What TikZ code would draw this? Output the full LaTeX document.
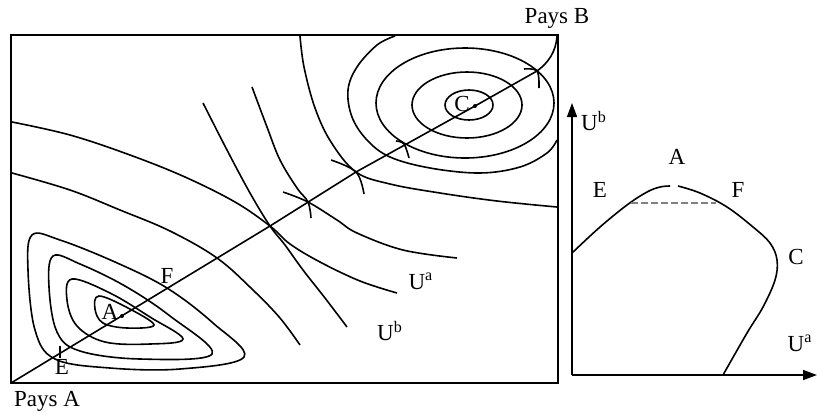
\documentclass[tikz,border=0pt]{standalone}
\usepackage{fontspec}
\setmainfont{Liberation Serif}
\usetikzlibrary{arrows.meta, positioning, calc}

\begin{document}
\begin{tikzpicture}[
    x=0.5pt, y=-0.5pt,
    boxline/.style={line width=0.9pt},
    icurve/.style={line width=0.8pt},
    lbl/.style={font=\fontsize{11.5}{13}\selectfont, inner sep=0pt},
    axisline/.style={line width=0.8pt, -{Triangle[length=7pt, width=5pt]}}
]
\useasboundingbox (0,0) rectangle (817,414);
% Edgeworth box
\draw[boxline] (11,35) rectangle (558,383);
\coordinate (O) at (11,383);
\coordinate (cA) at (122,316);
\coordinate (T0) at (270,226);
\coordinate (T1) at (308,202);
\coordinate (T2) at (356,172);
\coordinate (T3) at (404,144);
\coordinate (cC) at (475,106);
\coordinate (T4) at (537,71);
\coordinate (cB) at (557,36);
\draw[icurve] (O) -- (T0) -- (T2) -- (cC) -- (T4) .. controls (548,63) and (556,52) .. (cB);
\fill (cA) circle (2);
\fill (cC) circle (2);
% country A
\draw[icurve] plot[smooth cycle, tension=0.6] coordinates {(99,296) (95,309) (103,323) (127,328) (154,325) (128,308)};
\draw[icurve] plot[smooth cycle, tension=0.6] coordinates {(72,279) (67,300) (77,326) (105,342) (150,344) (183,339) (150,317) (110,293)};
\draw[icurve] plot[smooth cycle, tension=0.6] coordinates {(53,256) (49,287) (57,332) (80,351) (140,359) (212,354) (170,316) (125,286) (80,264)};
\draw[icurve] plot[smooth cycle, tension=0.6] coordinates {(32,235) (28,270) (35,330) (55,359) (110,368) (180,369) (244,357) (213,323) (167,288) (115,262) (60,240)};
\draw[icurve] plot[smooth, tension=0.6] coordinates {(12,122) (70,135) (130,155) (185,177) (235,202) (T0) (290,244) (320,262) (360,281) (397,293)};
\draw[icurve] plot[smooth, tension=0.6] coordinates {(12,173) (70,190) (120,210) (170,231) (217,258) (253,290) (280,318) (300,345)};
\draw[icurve] plot[smooth, tension=0.6] coordinates {(283,192) (T1) (337,220) (357,233) (403,250) (457,258)};
\draw[icurve] plot[smooth, tension=0.6] coordinates {(331,160) (T2) (364,194)};
\draw[icurve] plot[smooth, tension=0.6] coordinates {(396,141) (T3) (409,158)};
\draw[icurve] plot[smooth, tension=0.6] coordinates {(524,69) (T4) (539,88)};
% country B
\draw[icurve] (469,105) ellipse (24 and 15);
\draw[icurve] (467,105) ellipse (55 and 33);
\draw[icurve] (465,103) ellipse (89 and 55);
\draw[icurve] plot[smooth, tension=0.6] coordinates {(395,36) (377,45) (357,67) (348,90) (352,117) (367,140) (390,157) (430,168) (480,173) (520,167) (547,153) (557,140)};
\draw[icurve] plot[smooth, tension=0.6] coordinates {(300,36) (304,67) (315,108) (331,142) (T2) (390,184) (440,193) (497,201) (557,207)};
\draw[icurve] plot[smooth, tension=0.6] coordinates {(252,87) (267,127) (280,160) (297,188) (T1) (311,218)};
\draw[icurve] plot[smooth, tension=0.6] coordinates {(203,103) (227,150) (250,193) (T0) (285,245) (303,270) (325,298) (347,327)};
\draw[icurve] (60,346) -- (60,358);
\node[lbl] (paysA) at (47,401) {Pays A};
\node[lbl] (paysB) at (557,18) {Pays B};
\node[lbl] (lA) at (110,312) {A};
\node[lbl] (lE) at (62,367) {E};
\node[lbl] (lF) at (167,276) {F};
\node[lbl] (lC) at (462,104) {C};
\node[lbl] (lUa) at (421,281) {U\textsuperscript{a}};
\node[lbl] (lUb) at (390,331) {U\textsuperscript{b}};
% utility frontier
\coordinate (org) at (572,375);
\draw[axisline] (org) -- (572,103);
\draw[axisline] (org) -- (817,375);
\draw[icurve] plot[smooth, tension=0.6] coordinates {(572,253) (600,227) (627,205) (647,192) (660,187) (670,186)};
\draw[icurve] plot[smooth, tension=0.6] coordinates {(678,186) (700,193) (727,207) (753,227) (770,243) (777,260) (775,280) (763,307) (747,333) (723,375)};
\draw[icurve, gray, dash pattern=on 3.5pt off 1.5pt] (631,203) -- (716,203);
\node[lbl] (rUb) at (594,121) {U\textsuperscript{b}};
\node[lbl] (rA) at (677,157) {A};
\node[lbl] (rE) at (600,190) {E};
\node[lbl] (rF) at (738,190) {F};
\node[lbl] (rC) at (796,257) {C};
\node[lbl] (rUa) at (800,343) {U\textsuperscript{a}};
\end{tikzpicture}
\end{document}
